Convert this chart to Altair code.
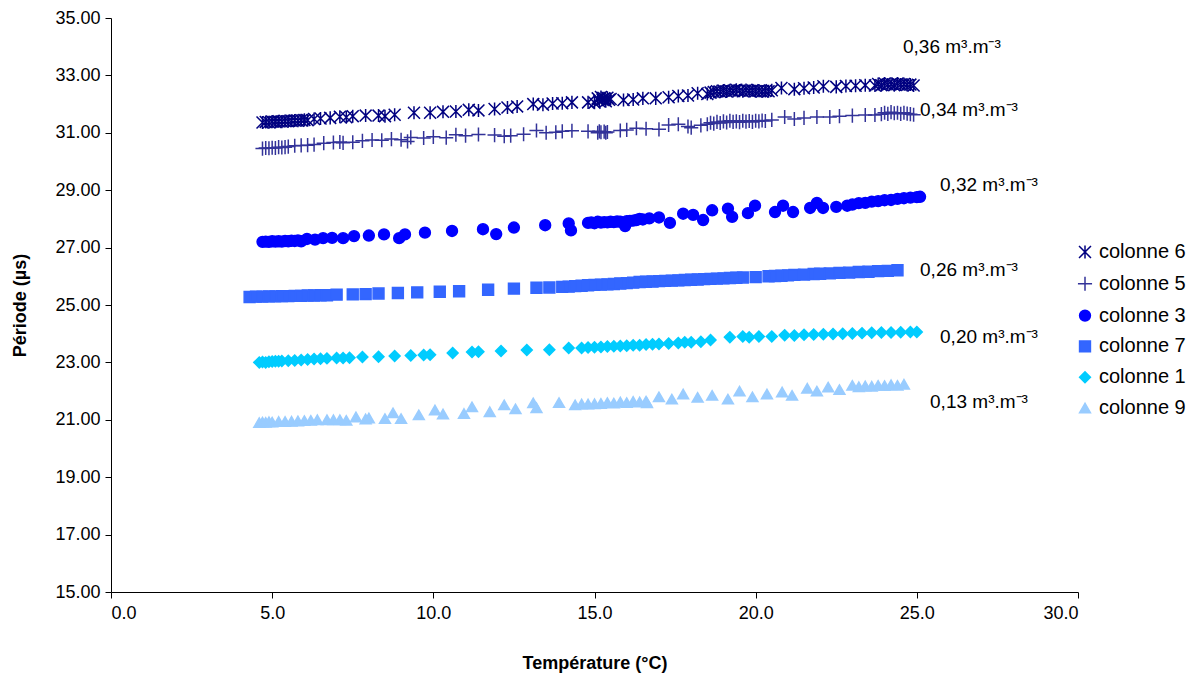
import altair as alt
import pandas as pd

series_names = ["colonne 6", "colonne 5", "colonne 3", "colonne 7", "colonne 1", "colonne 9"]
series_colors = ["#000080", "#333399", "#0000FF", "#3366FF", "#00CCFF", "#99CCFF"]
asterisk = "M-1.1,-1.1L1.1,1.1M-1.1,1.1L1.1,-1.1M0,-1.2L0,1.2"
plus = "M-1.3,0L1.3,0M0,-1.3L0,1.3"
series_shapes = [asterisk, plus, "circle", "square", "diamond", "triangle-up"]

c6_x = [4.7, 4.8, 4.9, 5.0, 5.1, 5.2, 5.3, 5.4, 5.5, 5.6, 5.7, 5.8, 5.9, 6.0, 6.1, 6.3, 6.5,
        6.8, 7.1, 7.3, 7.5, 7.9, 8.3, 8.5, 8.8, 9.4, 9.9, 10.3, 10.7, 11.1, 11.4, 11.9, 12.3,
        12.6, 13.1, 13.4, 13.7, 14.0, 14.3, 14.8, 15.0, 15.1, 15.15, 15.2, 15.25, 15.3, 15.35,
        15.4, 15.45, 15.5, 15.9, 16.2, 16.5, 16.9, 17.3, 17.6, 17.9, 18.2, 18.5, 18.6, 18.7,
        18.8, 18.9, 19.0, 19.1, 19.2, 19.3, 19.4, 19.5, 19.6, 19.7, 19.8, 19.9, 20.0, 20.1,
        20.2, 20.3, 20.4, 20.5, 20.8, 21.2, 21.5, 21.8, 22.1, 22.5, 22.8, 23.1, 23.4, 23.7,
        23.8, 23.9, 24.0, 24.1, 24.2, 24.3, 24.4, 24.5, 24.6, 24.7, 24.8, 24.9]
c6_y = [31.36, 31.38, 31.37, 31.39, 31.38, 31.40, 31.39, 31.41, 31.40, 31.42, 31.43, 31.42,
        31.44, 31.45, 31.44, 31.48, 31.50, 31.52, 31.56, 31.54, 31.58, 31.60, 31.60, 31.58,
        31.63, 31.70, 31.70, 31.73, 31.74, 31.80, 31.78, 31.83, 31.88, 31.92, 32.00, 31.98,
        32.02, 32.03, 32.06, 32.06, 32.05, 32.20, 32.10, 32.25, 32.15, 32.20, 32.10, 32.22,
        32.15, 32.18, 32.14, 32.16, 32.20, 32.20, 32.24, 32.28, 32.30, 32.38, 32.35, 32.40,
        32.42, 32.45, 32.43, 32.47, 32.44, 32.48, 32.46, 32.50, 32.47, 32.45, 32.49, 32.46,
        32.48, 32.45, 32.47, 32.44, 32.46, 32.45, 32.48, 32.56, 32.52, 32.55, 32.58, 32.62,
        32.60, 32.63, 32.64, 32.66, 32.65, 32.70, 32.66, 32.72, 32.68, 32.70, 32.66, 32.72,
        32.68, 32.70, 32.67, 32.68, 32.65]

c5_x = [4.7, 4.8, 4.9, 5.0, 5.1, 5.2, 5.3, 5.4, 5.5, 5.7, 5.9, 6.1, 6.3, 6.6, 6.9, 7.1, 7.2,
        7.5, 7.8, 8.1, 8.4, 8.7, 9.0, 9.2, 9.3, 9.7, 10.0, 10.4, 10.7, 11.0, 11.4, 11.9, 12.2,
        12.4, 12.8, 13.2, 13.5, 13.8, 14.0, 14.3, 14.8, 15.1, 15.15, 15.2, 15.3, 15.35, 15.4,
        15.8, 16.0, 16.3, 16.6, 17.0, 17.3, 17.6, 17.9, 18.0, 18.3, 18.5, 18.6, 18.7, 18.8,
        18.9, 19.0, 19.1, 19.2, 19.3, 19.4, 19.5, 19.6, 19.7, 19.8, 19.9, 20.0, 20.1, 20.2,
        20.3, 20.5, 20.9, 21.2, 21.5, 21.9, 22.3, 22.6, 23.0, 23.4, 23.7, 23.9, 24.0, 24.1,
        24.2, 24.3, 24.4, 24.5, 24.6, 24.7, 24.8, 24.9]
c5_y = [30.45, 30.47, 30.46, 30.48, 30.47, 30.50, 30.49, 30.50, 30.52, 30.55, 30.56, 30.57,
        30.59, 30.64, 30.66, 30.68, 30.65, 30.67, 30.72, 30.75, 30.74, 30.78, 30.76, 30.70,
        30.84, 30.82, 30.86, 30.83, 30.93, 30.90, 30.94, 30.92, 30.88, 30.90, 30.95, 31.08,
        31.00, 31.02, 31.05, 31.07, 31.05, 31.00, 31.05, 31.02, 31.04, 31.00, 31.03, 31.08,
        31.10, 31.16, 31.14, 31.12, 31.27, 31.30, 31.22, 31.18, 31.26, 31.30, 31.35, 31.32,
        31.38, 31.34, 31.40, 31.36, 31.42, 31.38, 31.40, 31.37, 31.42, 31.39, 31.41, 31.38,
        31.42, 31.40, 31.43, 31.41, 31.45, 31.55, 31.48, 31.52, 31.55, 31.55, 31.58, 31.60,
        31.62, 31.62, 31.65, 31.70, 31.66, 31.72, 31.68, 31.70, 31.66, 31.70, 31.67, 31.65,
        31.63]

c3_x = [4.7, 4.8, 4.9, 5.0, 5.1, 5.2, 5.3, 5.4, 5.5, 5.6, 5.7, 5.8, 5.9, 6.08, 6.33, 6.58,
        6.86, 7.2, 7.54, 8.0, 8.47, 8.94, 9.12, 9.74, 10.58, 11.54, 11.95, 12.5, 13.47, 14.2,
        14.27, 14.8, 14.9, 15.0, 15.1, 15.2, 15.3, 15.4, 15.5, 15.6, 15.7, 15.8, 15.95, 16.0,
        16.1, 16.2, 16.3, 16.4, 16.5, 16.7, 17.0, 17.34, 17.75, 18.06, 18.37, 18.65, 19.14,
        19.27, 19.76, 19.98, 20.6, 20.85, 21.16, 21.69, 21.9, 22.09, 22.5, 22.84, 23.0, 23.2,
        23.4, 23.6, 23.8, 24.0, 24.2, 24.4, 24.6, 24.8, 25.0, 25.1]
c3_y = [27.20, 27.21, 27.20, 27.22, 27.21, 27.22, 27.21, 27.23, 27.22, 27.24, 27.23, 27.25,
        27.22, 27.30, 27.28, 27.33, 27.34, 27.33, 27.40, 27.42, 27.46, 27.33, 27.46, 27.52,
        27.58, 27.64, 27.47, 27.70, 27.78, 27.84, 27.60, 27.86, 27.88, 27.85, 27.90, 27.87,
        27.89, 27.88, 27.90, 27.89, 27.91, 27.90, 27.75, 27.92, 27.93, 27.94, 27.96, 28.00,
        27.98, 28.02, 28.05, 27.86, 28.18, 28.14, 27.96, 28.30, 28.36, 28.07, 28.20, 28.46,
        28.24, 28.46, 28.24, 28.38, 28.56, 28.38, 28.42, 28.46, 28.50, 28.55, 28.56, 28.60,
        28.62, 28.65, 28.66, 28.70, 28.72, 28.74, 28.76, 28.77]

c7_x = [4.3, 4.5, 4.7, 4.9, 5.1, 5.3, 5.5, 5.7, 5.9, 6.1, 6.3, 6.5, 6.7, 7.0, 7.5, 7.9, 8.3,
        8.9, 9.5, 10.2, 10.8, 11.7, 12.5, 13.2, 13.6, 14.0, 14.2, 14.4, 14.6, 14.8, 15.0, 15.2,
        15.4, 15.6, 15.8, 16.0, 16.2, 16.4, 16.6, 16.8, 17.0, 17.2, 17.4, 17.6, 17.8, 18.0,
        18.2, 18.4, 18.6, 18.8, 19.0, 19.2, 19.4, 19.6, 20.0, 20.4, 20.6, 20.8, 21.0, 21.2,
        21.5, 21.8, 22.0, 22.3, 22.6, 22.9, 23.2, 23.5, 23.8, 24.1, 24.4]
c7_y = [25.28, 25.29, 25.29, 25.30, 25.30, 25.31, 25.31, 25.32, 25.32, 25.33, 25.33, 25.34,
        25.34, 25.36, 25.37, 25.38, 25.40, 25.42, 25.44, 25.46, 25.48, 25.53, 25.57, 25.60,
        25.61, 25.63, 25.64, 25.66, 25.67, 25.69, 25.70, 25.71, 25.72, 25.73, 25.75, 25.76,
        25.78, 25.80, 25.81, 25.82, 25.83, 25.84, 25.85, 25.86, 25.87, 25.88, 25.89, 25.90,
        25.91, 25.92, 25.93, 25.94, 25.95, 25.96, 25.97, 26.00, 26.01, 26.02, 26.03, 26.05,
        26.06, 26.08, 26.09, 26.10, 26.12, 26.13, 26.15, 26.16, 26.18, 26.19, 26.21]

c1_x = [4.6, 4.7, 4.8, 4.9, 5.0, 5.1, 5.2, 5.3, 5.5, 5.7, 5.9, 6.1, 6.3, 6.5, 6.7, 7.0, 7.2,
        7.4, 7.8, 8.3, 8.8, 9.3, 9.7, 9.9, 10.6, 11.2, 11.4, 12.1, 12.9, 13.6, 14.2, 14.6, 14.8,
        15.0, 15.2, 15.4, 15.6, 15.8, 16.0, 16.2, 16.4, 16.6, 16.8, 17.0, 17.3, 17.6, 17.8,
        18.0, 18.3, 18.6, 19.2, 19.6, 19.8, 20.1, 20.5, 20.9, 21.2, 21.5, 21.8, 22.1, 22.4,
        22.7, 23.0, 23.3, 23.6, 23.9, 24.2, 24.5, 24.8, 25.0]
c1_y = [23.00, 23.01, 23.00, 23.02, 23.03, 23.04, 23.04, 23.05, 23.06, 23.07, 23.08, 23.10,
        23.12, 23.13, 23.14, 23.15, 23.15, 23.16, 23.19, 23.20, 23.22, 23.24, 23.26, 23.27,
        23.33, 23.36, 23.37, 23.40, 23.43, 23.44, 23.50, 23.50, 23.52, 23.53, 23.54, 23.55,
        23.56, 23.57, 23.58, 23.60, 23.60, 23.62, 23.63, 23.64, 23.66, 23.68, 23.70, 23.70,
        23.72, 23.78, 23.88, 23.90, 23.88, 23.90, 23.90, 23.95, 23.94, 23.96, 23.97, 23.98,
        23.99, 24.00, 24.01, 24.02, 24.03, 24.04, 24.04, 24.05, 24.06, 24.06]

c9_x = [4.6, 4.7, 4.8, 4.9, 5.0, 5.2, 5.4, 5.6, 5.8, 6.0, 6.2, 6.4, 6.7, 6.9, 7.1, 7.3, 7.6,
        7.9, 8.0, 8.5, 8.75, 9.0, 9.55, 10.05, 10.3, 10.95, 11.2, 11.75, 12.2, 12.55, 13.1,
        13.2, 13.9, 14.4, 14.6, 14.8, 15.0, 15.2, 15.4, 15.6, 15.8, 16.0, 16.2, 16.4, 16.6,
        16.63, 17.0, 17.4, 17.75, 18.2, 18.65, 19.14, 19.5, 19.9, 20.35, 20.82, 21.13, 21.6,
        21.9, 22.25, 22.6, 23.0, 23.2, 23.4, 23.6, 23.8, 24.0, 24.2, 24.4, 24.6]
c9_y = [20.90, 20.92, 20.91, 20.93, 20.92, 20.94, 20.94, 20.95, 20.96, 20.97, 20.98, 21.00,
        21.00, 21.00, 21.00, 20.98, 21.10, 21.03, 21.06, 21.04, 21.24, 21.04, 21.17, 21.34,
        21.20, 21.22, 21.45, 21.28, 21.52, 21.38, 21.59, 21.42, 21.60, 21.52, 21.55, 21.55,
        21.56, 21.57, 21.60, 21.58, 21.62, 21.60, 21.64, 21.62, 21.65, 21.59, 21.80, 21.72,
        21.90, 21.78, 21.85, 21.72, 22.00, 21.80, 21.90, 21.97, 21.85, 22.10, 22.00, 22.14,
        22.05, 22.20, 22.15, 22.18, 22.17, 22.20, 22.19, 22.22, 22.20, 22.24]

label_text = ["0,36 m³.m⁻³", "0,34 m³.m⁻³", "0,32 m³.m⁻³",
              "0,26 m³.m⁻³", "0,20 m³.m⁻³", "0,13 m³.m⁻³"]
label_x = [24.57, 25.1, 25.72, 25.1, 25.72, 25.41]
label_y = [33.99, 31.78, 29.18, 26.22, 23.89, 21.62]

y_ticks = [15, 17, 19, 21, 23, 25, 27, 29, 31, 33, 35]
x_ticks = [0, 5, 10, 15, 20, 25, 30]

series_x = [c6_x, c5_x, c3_x, c7_x, c1_x, c9_x]
series_y = [c6_y, c5_y, c3_y, c7_y, c1_y, c9_y]
rows = []
for name, xs, ys in zip(series_names, series_x, series_y):
    for xv, yv in zip(xs, ys):
        rows.append({"Serie": name, "T": xv, "P": yv})
df = pd.DataFrame(rows)
labels_df = pd.DataFrame({"lx": label_x, "ly": label_y, "txt": label_text})

FONT = "Liberation Sans"

x_enc = alt.X("T:Q", scale=alt.Scale(domain=[0, 30], nice=False),
              axis=alt.Axis(values=x_ticks, format=".1f", title="Température (°C)",
                            titlePadding=32, labelPadding=6))
y_enc = alt.Y("P:Q", scale=alt.Scale(domain=[15, 35], nice=False, zero=False),
              axis=alt.Axis(values=y_ticks, format=".2f", title="Période (µs)",
                            titlePadding=25, labelPadding=5))

col_scale = alt.Scale(domain=series_names, range=series_colors)
points = alt.Chart(df).mark_point(filled=True, opacity=1, strokeWidth=1.5, size=118).encode(
    x=x_enc,
    y=y_enc,
    fill=alt.Fill("Serie:N", scale=col_scale, title=None),
    stroke=alt.Stroke("Serie:N", scale=col_scale, title=None),
    shape=alt.Shape("Serie:N", scale=alt.Scale(domain=series_names, range=series_shapes),
                    title=None),
)

labels = alt.Chart(labels_df).mark_text(align="left", baseline="middle", fontSize=19,
                                        font=FONT, color="black").encode(
    x=alt.X("lx:Q", scale=alt.Scale(domain=[0, 30], nice=False)),
    y=alt.Y("ly:Q", scale=alt.Scale(domain=[15, 35], nice=False, zero=False)),
    text="txt:N",
)

chart = alt.layer(points, labels).properties(
    width=967, height=574,
    padding={"left": 103, "top": 10, "right": 109, "bottom": 84},
    autosize=alt.AutoSizeParams(type="none"),
).configure_view(stroke=None).configure_axis(
    grid=False, domainColor="black", tickColor="black", labelColor="black",
    titleColor="black", labelFont=FONT, titleFont=FONT, labelFontSize=18,
    titleFontSize=18, titleFontWeight="bold", tickSize=6, domainWidth=1, tickWidth=1,
).configure_axisY(titleAngle=-90).configure_legend(
    orient="none", legendX=964, legendY=224, labelFontSize=20, labelFont=FONT,
    labelColor="black", symbolSize=118, symbolStrokeWidth=1.5, rowPadding=10.8,
    labelOffset=4,
)

chart.save("out.html", embed_options={"renderer": "svg", "actions": False})
